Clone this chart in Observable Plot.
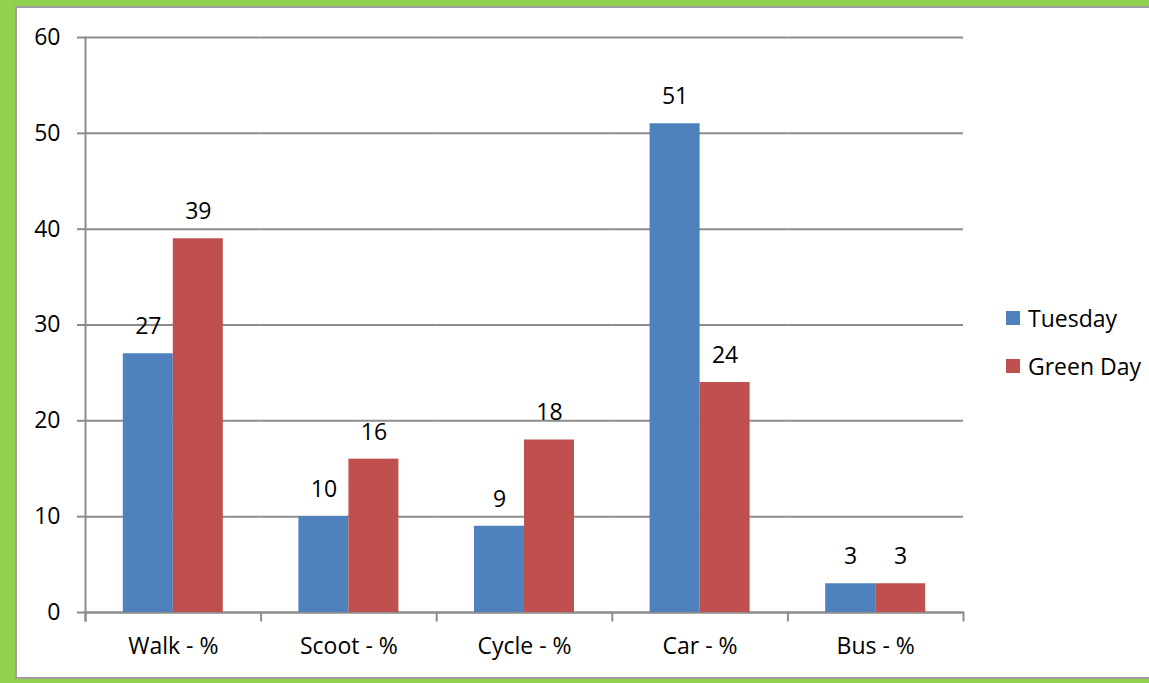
<!DOCTYPE html>
<html><head><meta charset="utf-8">
<script src="https://cdn.jsdelivr.net/npm/d3@7"></script>
<script src="https://cdn.jsdelivr.net/npm/@observablehq/plot@0.6"></script>
<style>
html,body{margin:0;padding:0;}
body{width:1149px;height:683px;background:#92D050;position:relative;overflow:hidden;font-family:"Open Sans",sans-serif;}
#panel{position:absolute;left:15px;top:6px;width:1134px;height:673px;background:#fff;border:2px solid #a0a0a0;border-right:none;box-sizing:border-box;}
#chart{position:absolute;left:0;top:0;}
#legend{position:absolute;left:1006px;top:306px;font-size:23px;color:#000;}
.item{display:flex;align-items:center;height:24px;margin-bottom:24px;white-space:nowrap;}
.sw{width:14px;height:14px;margin-right:8px;flex:none;}
</style>
</head><body>
<div id="panel"></div>
<div id="chart"></div>
<div id="legend"></div>
<script>
const categories = ["Walk - %", "Scoot - %", "Cycle - %", "Car - %", "Bus - %"];
const series = ["Tuesday", "Green Day"];
const tuesday = [27, 10, 9, 51, 3];
const greenDay = [39, 16, 18, 24, 3];
const yTicks = [0, 10, 20, 30, 40, 50, 60];
const colors = ["#4F81BD", "#C0504D"];

const data = categories.flatMap((c, i) => [
  {category: c, series: series[0], value: tuesday[i]},
  {category: c, series: series[1], value: greenDay[i]}
]);

const W = 1149, H = 683, mL = 85, mR = 186, mT = 37, mB = 71;
const gray = "#8c8c8c";

const chart = Plot.plot({
  width: W, height: H,
  marginLeft: mL, marginRight: mR, marginTop: mT, marginBottom: mB,
  style: {fontFamily: "'Open Sans', sans-serif", fontSize: "23px", color: "#000", background: "transparent", overflow: "visible"},
  fx: {domain: categories, padding: 0, round: false, label: null},
  x: {domain: series, paddingInner: 0, paddingOuter: 0.756, round: false, axis: null},
  y: {domain: [0, 60], label: null},
  color: {domain: series, range: colors},
  marks: [
    Plot.gridY(yTicks, {stroke: gray, strokeOpacity: 1, strokeWidth: 2}),
    Plot.ruleY([0], {stroke: gray, strokeWidth: 2}),
    Plot.barY(data, {fx: "category", x: "series", y: "value", fill: "series"}),
    Plot.text(data, {fx: "category", x: "series", y: "value", text: d => String(d.value), dy: -27, fill: "#000"}),
    Plot.frame({anchor: "left", facetAnchor: "left", insetBottom: -8, stroke: gray, strokeWidth: 2}),
    Plot.frame({anchor: "left", insetTop: H - mT - mB, insetBottom: -8, stroke: gray, strokeWidth: 2}),
    Plot.frame({anchor: "right", facetAnchor: "right", insetTop: H - mT - mB, insetBottom: -8, stroke: gray, strokeWidth: 2}),
    Plot.axisY(yTicks, {tickSize: 8, tickPadding: 17, stroke: gray, strokeWidth: 2, fill: "#000", label: null}),
    Plot.axisFx({anchor: "bottom", tickSize: 0, tickPadding: 25, fill: "#000", label: null})
  ]
});
document.getElementById("chart").appendChild(chart);

const legend = document.getElementById("legend");
series.forEach((s, i) => {
  const item = document.createElement("div");
  item.className = "item";
  const sw = document.createElement("span");
  sw.className = "sw";
  sw.style.background = colors[i];
  const t = document.createElement("span");
  t.textContent = s;
  item.appendChild(sw);
  item.appendChild(t);
  legend.appendChild(item);
});
</script>
</body></html>
